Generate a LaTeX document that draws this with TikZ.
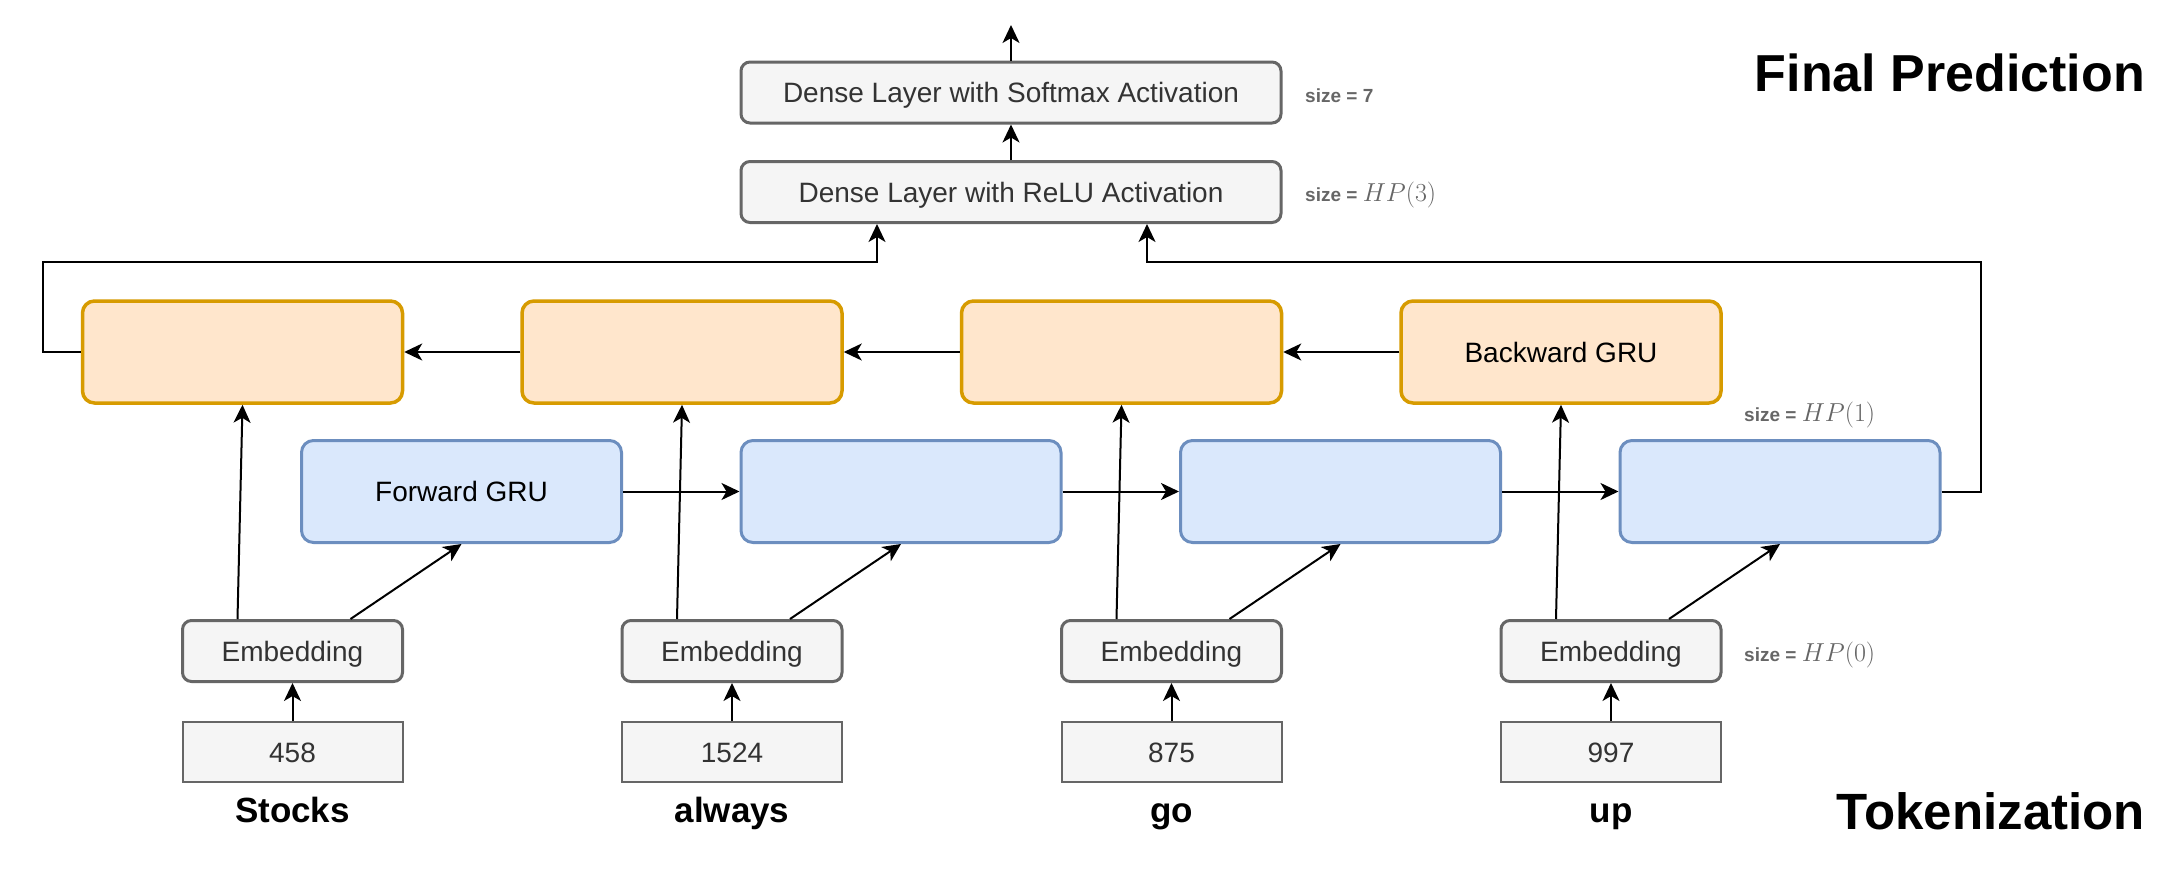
\RequirePackage{fix-cm}
\documentclass[tikz,border=0pt]{standalone}
\usepackage{fontspec}
\setmainfont{Liberation Sans}
\usetikzlibrary{arrows.meta}
\definecolor{gfill}{HTML}{F5F5F5}
\definecolor{gline}{HTML}{666666}
\definecolor{gtext}{HTML}{333333}
\definecolor{ofill}{HTML}{FFE6CC}
\definecolor{oline}{HTML}{D79B00}
\definecolor{bfill}{HTML}{DAE8FC}
\definecolor{bline}{HTML}{6C8EBF}
\tikzset{
  boxtxt/.style={font=\fontsize{28}{34}\selectfont, text height=20pt, text depth=0pt},
  gbox/.style={boxtxt, draw=gline, fill=gfill, text=gtext, line width=3pt, rounded corners=9pt, inner sep=0pt, minimum width=#1, minimum height=61pt},
  gbox/.default=220pt,
  tokbox/.style={boxtxt, draw=gline, fill=gfill, text=gtext, line width=2pt, inner sep=0pt, minimum width=220pt, minimum height=60pt},
  obox/.style={boxtxt, draw=oline, fill=ofill, text=black, line width=3.5pt, rounded corners=12pt, inner sep=0pt, minimum width=320pt, minimum height=102pt},
  bbox/.style={boxtxt, draw=bline, fill=bfill, text=black, line width=3pt, rounded corners=12pt, inner sep=0pt, minimum width=320pt, minimum height=102pt},
  word/.style={font=\fontsize{35}{40}\selectfont\bfseries, text=black, inner sep=0pt, anchor=base},
  title/.style={font=\fontsize{52}{60}\selectfont\bfseries, text=black, inner sep=0pt, anchor=base east},
  sizelbl/.style={anchor=base west, inner sep=0pt, text=gline},
  arr/.style={draw=black, line width=2pt, -{Stealth[length=18pt, width=17pt, inset=5pt]}},
  plain/.style={draw=black, line width=2pt}
}
\newcommand{\szl}{\fontsize{19}{22}\selectfont\bfseries size =}
\newcommand{\hpm}[1]{{\fontsize{26}{30}\selectfont$HP(#1)$}}
\begin{document}
\begin{tikzpicture}[x=1pt,y=-1pt]
\useasboundingbox[fill=white] (0,0) rectangle (2184,878);

% Dense layers
\node[gbox=540pt] (soft) at (1011,92.5) {Dense Layer with Softmax Activation};
\node[gbox=540pt] (relu) at (1011,192) {Dense Layer with ReLU Activation};

% Backward GRU row
\node[obox] (b1) at (242.5,352) {};
\node[obox] (b2) at (682,352) {};
\node[obox] (b3) at (1121.5,352) {};
\node[obox] (b4) at (1561,352) {Backward GRU};

% Forward GRU row
\node[bbox] (f1) at (461.5,491.5) {Forward GRU};
\node[bbox] (f2) at (901,491.5) {};
\node[bbox] (f3) at (1340.5,491.5) {};
\node[bbox] (f4) at (1780,491.5) {};

% Embeddings
\node[gbox] (e1) at (292.5,651) {Embedding};
\node[gbox] (e2) at (732,651) {Embedding};
\node[gbox] (e3) at (1171.5,651) {Embedding};
\node[gbox] (e4) at (1611,651) {Embedding};

% Tokens
\node[tokbox] (t1) at (292.5,752) {458};
\node[tokbox] (t2) at (732,752) {1524};
\node[tokbox] (t3) at (1171.5,752) {875};
\node[tokbox] (t4) at (1611,752) {997};

% Words
\node[word] (w1) at (292.5,822) {Stocks};
\node[word] (w2) at (732,822) {always};
\node[word] (w3) at (1171.5,822) {go};
\node[word] (w4) at (1611,822) {up};

% Titles
\node[title] (tfp) at (2145,91) {Final Prediction};
\node[title, font=\fontsize{51}{60}\selectfont\bfseries] (ttok) at (2145,829) {Tokenization};

% Size labels
\node[sizelbl] (s7) at (1305,102) {\szl{} 7};
\node[sizelbl] (s3) at (1305,201) {\szl{} \hpm{3}};
\node[sizelbl] (s1) at (1744,421) {\szl{} \hpm{1}};
\node[sizelbl] (s0) at (1744,661) {\szl{} \hpm{0}};

% Token -> Embedding, Embedding -> GRUs
\foreach \i in {1,2,3,4} {
  \draw[arr] (t\i.north) -- (e\i.south);
  \draw[arr] ([xshift=-55pt]e\i.north) -- (b\i.south);
  \draw[arr] ([xshift=58pt]e\i.north) -- (f\i.south);
}

% Backward chain
\draw[arr] (b4.west) -- (b3.east);
\draw[arr] (b3.west) -- (b2.east);
\draw[arr] (b2.west) -- (b1.east);

% Forward chain
\draw[arr] (f1.east) -- (f2.west);
\draw[arr] (f2.east) -- (f3.west);
\draw[arr] (f3.east) -- (f4.west);

% Feedback to ReLU
\coordinate (lk) at (43,262);
\coordinate (rk) at (1981,262);
\draw[arr] (b1.west) -| (lk) -| ([xshift=-134pt]relu.south);
\draw[arr] (f4.east) -| (rk) -| ([xshift=136pt]relu.south);

% Dense stack
\draw[arr] (relu.north) -- (soft.south);
\coordinate (out) at (1011,25);
\draw[arr] (soft.north) -- (out);
\end{tikzpicture}
\end{document}
